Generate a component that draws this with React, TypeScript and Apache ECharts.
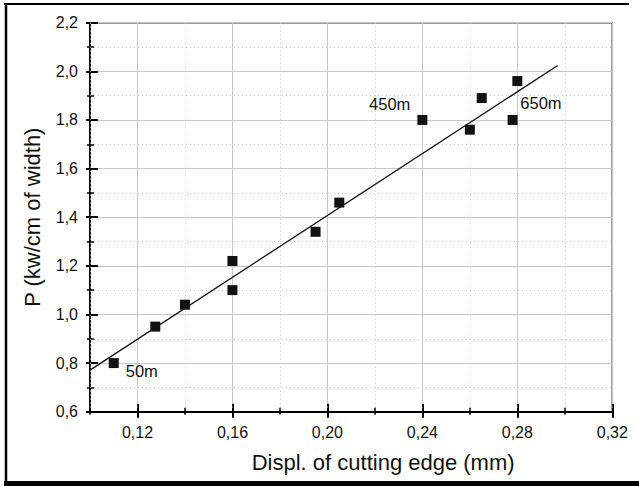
import { useEffect, useRef } from "react";
import * as echarts from "echarts";

// ---- data ----
const xMajorTicks = [0.12, 0.16, 0.2, 0.24, 0.28, 0.32];
const displacement = [0.11, 0.1275, 0.14, 0.16, 0.16, 0.195, 0.205, 0.24, 0.26, 0.265, 0.278, 0.28];
const power = [0.8, 0.95, 1.04, 1.1, 1.22, 1.34, 1.46, 1.8, 1.76, 1.89, 1.8, 1.96];
const fitX = [0.1, 0.297];
const fitY = [0.771, 2.024];
const annotationText = ["50m", "450m", "650m"];
const annotationX = [0.11, 0.24, 0.28];
const annotationY = [0.8, 1.8, 1.96];

const FONT = "'Liberation Sans', Arial, sans-serif";
const TXT = "#111";

export default function App() {
  const ref = useRef<HTMLDivElement>(null);
  useEffect(() => {
    if (!ref.current) return;
    const chart = echarts.init(ref.current, null, { renderer: "svg" });
    const xBase = { type: "value", min: 0.1, max: 0.32, position: "bottom" };
    const annOffsets = [
      { align: "left", offset: [12, 8] },
      { align: "right", offset: [-12, -16] },
      { align: "left", offset: [3, 22] },
    ];
    chart.setOption({
      animation: false,
      backgroundColor: "#fff",
      textStyle: { fontFamily: FONT },
      grid: {
        left: 90,
        right: 26.7,
        top: 22.7,
        bottom: 74.3,
        show: true,
        borderColor: "#333",
        borderWidth: 1.5,
        backgroundColor: "#fff",
        containLabel: false,
        outerBoundsMode: "none",
      },
      graphic: [
        { type: "line", shape: { x1: 4, y1: 4, x2: 629, y2: 4 }, style: { stroke: "#000", lineWidth: 2 }, silent: true },
        { type: "line", shape: { x1: 6, y1: 3, x2: 6, y2: 486 }, style: { stroke: "#000", lineWidth: 2.5 }, silent: true },
        { type: "rect", shape: { x: 4, y: 481, width: 635, height: 5 }, style: { fill: "#000" }, silent: true },
      ],
      xAxis: [
        {
          ...xBase,
          interval: 0.02,
          axisLine: { show: true, lineStyle: { color: "#000", width: 2 } },
          axisTick: { show: true, inside: true, length: 4, lineStyle: { color: "#000", width: 1.5 } },
          axisLabel: { show: false },
          splitLine: { show: true, lineStyle: { color: "#c8c8c8", type: [1, 3], width: 1 } },
          z: 1,
        },
        {
          ...xBase,
          interval: 0.02,
          axisLine: { show: false },
          axisTick: { show: true, inside: false, length: 3, lineStyle: { color: "#000", width: 1.5 } },
          axisLabel: { show: false },
          splitLine: { show: false },
        },
        {
          ...xBase,
          axisLine: { show: false },
          axisTick: {
            show: true,
            inside: true,
            length: 8,
            customValues: xMajorTicks,
            lineStyle: { color: "#000", width: 2 },
          },
          axisLabel: {
            show: true,
            customValues: xMajorTicks,
            margin: 13,
            fontSize: 16,
            color: TXT,
            fontFamily: FONT,
            formatter: (v: number) => v.toFixed(2).replace(".", ","),
          },
          splitLine: { show: true, lineStyle: { color: "#c8c8c8", width: 1 } },
          name: "Displ. of cutting edge (mm)",
          nameLocation: "middle",
          nameGap: 40,
          nameTextStyle: { fontSize: 22, color: TXT, fontFamily: FONT, padding: [0, 0, 0, 64] },
        },
        {
          ...xBase,
          axisLine: { show: false },
          axisTick: {
            show: true,
            inside: false,
            length: 6,
            customValues: xMajorTicks,
            lineStyle: { color: "#000", width: 2 },
          },
          axisLabel: { show: false },
          splitLine: { show: false },
        },
      ],
      yAxis: [
        {
          type: "value",
          min: 0.6,
          max: 2.2,
          interval: 0.2,
          position: "left",
          axisLine: { show: true, lineStyle: { color: "#000", width: 2 } },
          axisTick: { show: true, inside: true, length: 8, lineStyle: { color: "#000", width: 2 } },
          minorTick: { show: true, splitNumber: 2, length: 4, lineStyle: { color: "#000", width: 1.5 } },
          axisLabel: {
            show: true,
            margin: 12,
            fontSize: 16,
            color: TXT,
            fontFamily: FONT,
            formatter: (v: number) => v.toFixed(1).replace(".", ","),
          },
          splitLine: { show: true, lineStyle: { color: "#c8c8c8", width: 1 } },
          minorSplitLine: { show: true, lineStyle: { color: "#c8c8c8", type: [1, 3], width: 1 } },
          name: "P (kw/cm of width)",
          nameLocation: "middle",
          nameGap: 47,
          nameTextStyle: { fontSize: 22, color: TXT, fontFamily: FONT },
        },
        {
          type: "value",
          min: 0.6,
          max: 2.2,
          interval: 0.2,
          position: "left",
          axisLine: { show: false },
          axisTick: { show: true, inside: false, length: 4, lineStyle: { color: "#000", width: 2 } },
          minorTick: { show: true, splitNumber: 2, length: 3, lineStyle: { color: "#000", width: 1.5 } },
          axisLabel: { show: false },
          splitLine: { show: false },
        },
      ],
      series: [
        {
          type: "line",
          xAxisIndex: 0,
          yAxisIndex: 0,
          data: fitX.map((x, i) => [x, fitY[i]]),
          symbol: "none",
          lineStyle: { color: "#111", width: 1.3 },
          silent: true,
          z: 3,
        },
        {
          type: "scatter",
          xAxisIndex: 0,
          yAxisIndex: 0,
          data: displacement.map((x, i) => [x, power[i]]),
          symbol: "rect",
          symbolSize: 10,
          itemStyle: { color: "#111", opacity: 1 },
          z: 4,
        },
        {
          type: "scatter",
          xAxisIndex: 0,
          yAxisIndex: 0,
          symbolSize: 1,
          itemStyle: { color: "rgba(0,0,0,0)", opacity: 1 },
          silent: true,
          z: 5,
          data: annotationText.map((t, i) => ({
            value: [annotationX[i], annotationY[i]],
            name: t,
            label: {
              show: true,
              position: "inside",
              formatter: t,
              align: annOffsets[i].align,
              verticalAlign: "middle",
              offset: annOffsets[i].offset,
              fontSize: 16.5,
              color: TXT,
              opacity: 1,
              fontFamily: FONT,
            },
          })),
        },
      ],
    });
    return () => chart.dispose();
  }, []);
  return (
    <div
      ref={ref}
      style={{ position: "fixed", left: 0, top: 0, width: 639, height: 486, background: "#fff" }}
    />
  );
}
